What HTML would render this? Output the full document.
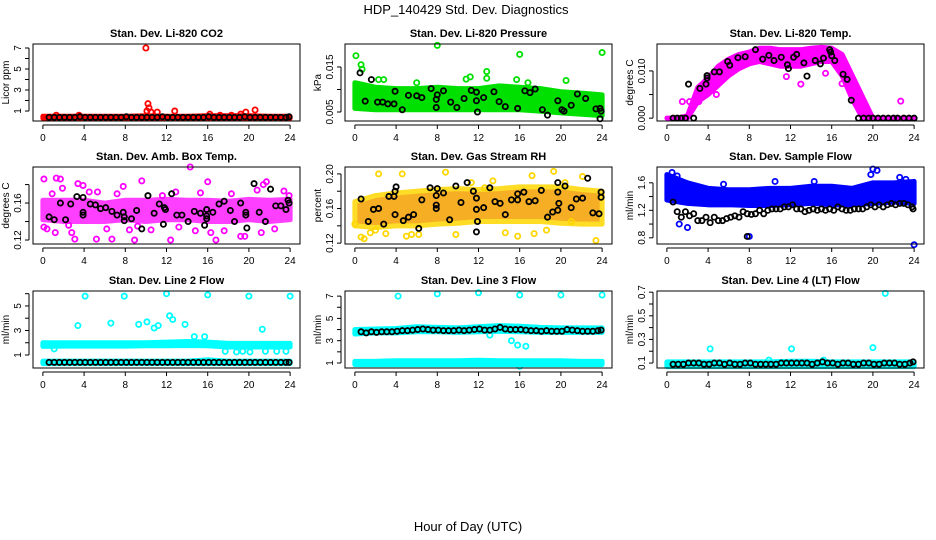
<!DOCTYPE html>
<html><head><meta charset="utf-8">
<style>
html,body{margin:0;padding:0;background:#fff;}
svg{display:block;font-family:"Liberation Sans",sans-serif;}
</style></head>
<body>
<svg id="chart" width="936" height="540" viewBox="0 0 936 540" xmlns="http://www.w3.org/2000/svg">
<text x="466" y="14" text-anchor="middle" font-size="13">HDP_140429  Std. Dev. Diagnostics</text>
<text x="468" y="531" text-anchor="middle" font-size="13">Hour of Day (UTC)</text>
</svg>
<script>
// ---- data ----
const bandHours=[0,2,4,6,8,10,12,14,16,18,20,22,24];
const tempBandHours=[0,1,2,3,4,5,6,7,8,9,10,11,12,13,14,15,16,17,18,19,20,21,22,23,24];
// P1 CO2
const co2BandLo=[0.3,0.3,0.3,0.3,0.3,0.3,0.3,0.3,0.3,0.3,0.3,0.3,0.3];
const co2BandHi=[0.5,0.5,0.5,0.5,0.5,0.55,0.5,0.5,0.55,0.55,0.55,0.5,0.5];
const co2RedX=[10,10.1,10.2,10.3,10.5,11.1,12.8,16.2,19.7,20.6,1.3,3.5,18.3,19.2,17.2];
const co2RedY=[7,1.0,1.7,1.3,0.9,0.9,1.0,0.7,0.9,1.1,0.6,0.6,0.6,0.7,0.6];
const co2BlkX=[0.6,1.1,1.6,2.1,2.6,3.1,3.6,4.1,4.6,5.1,5.6,6.1,6.6,7.1,7.6,8.1,8.6,9.1,9.6,10.1,10.6,11.1,11.6,12.1,12.6,13.1,13.6,14.1,14.6,15.1,15.6,16.1,16.6,17.1,17.6,18.1,18.6,19.1,19.6,20.1,20.6,21.1,21.6,22.1,22.6,23.1,23.6,23.9];
const co2BlkY=[0.4,0.4,0.4,0.4,0.4,0.4,0.45,0.4,0.4,0.4,0.4,0.4,0.4,0.4,0.4,0.45,0.4,0.4,0.4,0.4,0.4,0.4,0.45,0.4,0.4,0.4,0.4,0.4,0.4,0.4,0.4,0.45,0.4,0.4,0.4,0.4,0.4,0.4,0.45,0.4,0.4,0.4,0.4,0.4,0.4,0.4,0.4,0.45];
// P2 pressure
const presBandLo=[0.0058,0.0055,0.0055,0.0055,0.0055,0.0055,0.0055,0.0055,0.0055,0.0052,0.0048,0.0045,0.0042];
const presBandHi=[0.0115,0.0105,0.0102,0.0102,0.0105,0.0102,0.0102,0.0108,0.0105,0.0102,0.0095,0.0092,0.0088];
const presGrnX=[0.1,0.6,0.7,8,16,24,12.8,12.8,11.2,10.8,2.8,20.5,6,16.8,15.7,2.3];
const presGrnY=[0.0175,0.0155,0.0145,0.0198,0.0178,0.0182,0.014,0.0125,0.0128,0.0123,0.0122,0.012,0.0115,0.0115,0.0122,0.0122];
const presBlkX=[0.5,1.6,1,2.2,2.7,3.2,3.8,3.9,4.6,5.2,6,6.5,7.4,7.9,8,7.9,8.6,9.3,9.9,10.6,11.3,11.8,11.8,11.9,12.5,13.5,14,14.6,15.8,16.5,17,17.5,18.2,18.7,19.7,20.1,20.3,21,21.6,22.4,23.4,23.8,23.9,23.8];
const presBlkY=[0.0137,0.0122,0.0074,0.0072,0.0072,0.0068,0.0068,0.0096,0.0055,0.0087,0.0086,0.0082,0.0102,0.0078,0.0088,0.006,0.0097,0.0072,0.006,0.008,0.0098,0.0094,0.0075,0.005,0.0082,0.0095,0.0073,0.0062,0.0058,0.0097,0.0093,0.0101,0.0055,0.0043,0.0075,0.0055,0.0052,0.0065,0.009,0.008,0.0057,0.0058,0.0052,0.0035];
// P3 temp
const tempBandLo=[0,0,0,0.0035,0.005,0.007,0.009,0.0105,0.0115,0.012,0.0115,0.011,0.011,0.011,0.0115,0.012,0.012,0.009,0.004,0,0,0,0,0,0];
const tempBandHi=[0,0,0.0005,0.0065,0.0085,0.011,0.0125,0.0135,0.014,0.0148,0.0148,0.0145,0.0145,0.0145,0.0148,0.015,0.0148,0.0135,0.009,0.0045,0,0,0,0,0];
const tempMagX=[22.7,19,13,11.6,15.4,17,4.8,1.5,2.2,3.1,18.6];
const tempMagY=[0.0036,0.0025,0.0072,0.0088,0.0095,0.0073,0.005,0.0035,0.0035,0.0035,0.005];
const tempBlkX=[0.6,1,1.4,1.8,2.6,2.1,3.2,3.8,3.9,3.9,4.6,5.1,5.9,6.9,6.1,7.6,8.6,9.3,9.9,10.4,11.1,11.7,11.8,12.3,12.6,13.3,13.6,14.4,14.9,15.2,15.8,15.9,16,16.3,17.1,17.5,17.9,18.6,19.1,19.6,20,20.5,21,21.5,22,22.4,23,23.5,24];
const tempBlkY=[0,0,0,0,0,0.0072,0.0063,0.0072,0.0085,0.009,0.0098,0.0098,0.012,0.0128,0.0112,0.013,0.0145,0.0125,0.0133,0.0122,0.0129,0.0113,0.0105,0.0129,0.0135,0.0117,0.0089,0.0122,0.0115,0.0127,0.0145,0.014,0.0132,0.0122,0.0093,0.0082,0.0038,0,0,0,0,0,0,0,0,0,0,0,0];
// P4 amb box temp
const ambBandLo=[0.142,0.14,0.14,0.14,0.142,0.14,0.142,0.142,0.14,0.14,0.142,0.14,0.142];
const ambBandHi=[0.163,0.163,0.163,0.16,0.163,0.163,0.164,0.163,0.163,0.162,0.164,0.163,0.164];
const ambMagX=[0.1,1.3,1.7,0.1,0.4,1.2,2.8,3.1,3.4,3.9,5.2,5.3,6.7,7.8,8.9,9.6,12.4,14.3,15.3,16,16.8,19.2,19.6,21.4,21.7,0.9,7.2,11.6,18.3,23.4,23.9,8.4,16.3,21.2,2.5,13.2,4.5,10.5,14.8,17.6,22.5,6.2,9.2,12.9,20.8,1.9];
const ambMagY=[0.186,0.187,0.186,0.134,0.132,0.128,0.128,0.121,0.181,0.179,0.121,0.172,0.121,0.178,0.12,0.184,0.12,0.199,0.171,0.183,0.12,0.124,0.124,0.18,0.183,0.17,0.17,0.168,0.17,0.173,0.168,0.131,0.128,0.128,0.136,0.134,0.172,0.131,0.13,0.13,0.132,0.132,0.135,0.172,0.174,0.176];
const ambBlkX=[0.6,1.1,1.7,2.2,2.7,3.3,3.9,3.9,3.9,4.6,5.1,5.6,6.1,6.7,7.2,7.8,7.9,7.9,8.6,9.1,9.6,10.2,10.8,11.3,11.8,11.9,11.7,12.5,13,13.5,14.1,14.7,15.3,15.9,15.9,15.9,15.7,16.5,17.1,17.6,18.2,18.6,19.2,19.7,19.7,19.8,20.5,21,21.6,22.1,22.6,23.1,23.6,23.8,23.9];
const ambBlkY=[0.145,0.142,0.16,0.142,0.159,0.167,0.166,0.15,0.147,0.159,0.158,0.154,0.155,0.151,0.147,0.15,0.145,0.141,0.143,0.152,0.132,0.168,0.149,0.159,0.155,0.153,0.137,0.17,0.147,0.147,0.14,0.151,0.149,0.153,0.146,0.143,0.136,0.15,0.159,0.162,0.152,0.14,0.16,0.15,0.147,0.133,0.181,0.15,0.14,0.175,0.157,0.157,0.153,0.163,0.16];
// P5 RH
const rhBandLo=[0.14,0.138,0.14,0.14,0.142,0.143,0.145,0.145,0.145,0.145,0.143,0.142,0.142];
const rhBandHi=[0.168,0.175,0.178,0.18,0.182,0.183,0.182,0.183,0.185,0.185,0.185,0.182,0.18];
const rhYelX=[2.3,4.6,8.8,19.3,22.1,17.2,0.6,0.9,5,6.2,14.6,15.8,17.4,18.6,23.4,21,9.8,0,3,12.6,11.3,20.4,1.5,2,5.5,13.4];
const rhYelY=[0.2,0.2,0.202,0.203,0.197,0.198,0.127,0.125,0.128,0.13,0.132,0.128,0.131,0.135,0.123,0.145,0.13,0.142,0.131,0.184,0.19,0.19,0.132,0.135,0.13,0.192];
const rhBlkX=[0.6,1.3,1.8,2.3,2.8,3.3,3.8,3.9,4,3.9,4.7,5.2,5.7,6.2,6.5,7.3,8,7.9,7.9,7.9,8.6,9.2,9.8,10.3,10.9,11.5,11.8,11.8,11.9,11.8,12.5,13.1,13.6,14.1,14.6,15.2,15.8,15.8,16.4,16.9,17.5,18.1,18.7,19.2,19.7,19.8,19.7,19.7,20.4,21,21.5,22.1,22.6,23.1,23.7,23.9,23.9];
const rhBlkY=[0.171,0.145,0.159,0.16,0.142,0.174,0.174,0.18,0.185,0.153,0.146,0.15,0.153,0.137,0.17,0.184,0.183,0.175,0.164,0.16,0.178,0.147,0.186,0.167,0.19,0.18,0.172,0.159,0.145,0.133,0.161,0.184,0.168,0.166,0.153,0.17,0.177,0.17,0.179,0.168,0.169,0.181,0.15,0.156,0.158,0.166,0.179,0.19,0.186,0.161,0.171,0.172,0.195,0.155,0.154,0.173,0.179];
// P6 sample flow
const sfBandLo=[1.35,1.3,1.28,1.28,1.27,1.27,1.28,1.3,1.28,1.28,1.3,1.32,1.3];
const sfBandHi=[1.72,1.6,1.52,1.5,1.5,1.52,1.52,1.55,1.55,1.52,1.6,1.6,1.62];
const sfBluX=[24,20,20.4,0.5,2,1.2,8,0.3,1,19.8,22.6,23.2,14.3,10.5,5.5];
const sfBluY=[0.7,1.8,1.78,1.75,0.95,1.0,0.82,1.6,1.7,1.72,1.68,1.65,1.62,1.62,1.58];
const sfBlkX=[0.6,1,1.4,1.8,2.2,2.6,3,3.4,3.8,4.2,4.6,5,5.4,5.8,6.2,6.6,7,7.4,7.8,8.2,8.6,9,9.4,9.8,10.2,10.6,11,11.4,11.8,12.2,12.6,13,13.4,13.8,14.2,14.6,15,15.4,15.8,16.2,16.6,17,17.4,17.8,18.2,18.6,19,19.4,19.8,20.2,20.6,21,21.4,21.8,22.2,22.6,23,23.4,23.8,23.9,7.8];
const sfBlkY=[1.32,1.18,1.1,1.18,1.12,1.15,1.05,1.05,1.1,1.02,1.1,1.05,1.05,1.08,1.1,1.12,1.1,1.18,1.15,1.14,1.15,1.2,1.15,1.2,1.22,1.22,1.22,1.25,1.25,1.28,1.22,1.22,1.18,1.2,1.22,1.2,1.22,1.2,1.22,1.2,1.25,1.22,1.2,1.2,1.22,1.22,1.22,1.25,1.28,1.25,1.28,1.25,1.28,1.3,1.28,1.3,1.3,1.28,1.25,1.22,0.82];
// P7 line 2 flow
const l2BandLo=[1.7,1.72,1.72,1.72,1.72,1.75,1.75,1.78,1.75,1.65,1.65,1.65,1.65];
const l2BandHi=[2.0,2.0,2.0,2.0,2.0,2.0,2.05,2.1,2.05,1.95,1.95,1.95,1.95];
const l2LowLo=[0.3,0.3,0.3,0.3,0.3,0.3,0.3,0.3,0.3,0.3,0.3,0.3,0.3];
const l2LowHi=[0.5,0.5,0.5,0.5,0.5,0.5,0.5,0.5,0.6,0.5,0.5,0.5,0.5];
const l2CyaX=[4.1,3.4,6.6,7.9,9.3,10.1,10.8,11.2,12,12.3,12.6,13.8,16,14.7,15.7,20,21.3,24,17.7,18.8,19.4,20.1,21.6,22.7,23.6,1.1];
const l2CyaY=[5.8,3.4,3.6,5.8,3.5,3.7,3.2,3.4,6,4.2,3.9,3.5,5.9,2.5,2.5,5.8,3.1,5.8,1.3,1.25,1.3,1.25,1.3,1.3,1.3,1.5];
const l2BlkX=[0.6,1.1,1.6,2.1,2.6,3.1,3.6,4.1,4.6,5.1,5.6,6.1,6.6,7.1,7.6,8.1,8.6,9.1,9.6,10.1,10.6,11.1,11.6,12.1,12.6,13.1,13.6,14.1,14.6,15.1,15.6,16.1,16.6,17.1,17.6,18.1,18.6,19.1,19.6,20.1,20.6,21.1,21.6,22.1,22.6,23.1,23.6,23.9];
const l2BlkY=[0.4,0.4,0.4,0.4,0.4,0.4,0.4,0.4,0.4,0.4,0.4,0.4,0.4,0.4,0.4,0.4,0.4,0.4,0.4,0.4,0.4,0.4,0.4,0.4,0.4,0.4,0.4,0.4,0.4,0.4,0.4,0.4,0.4,0.4,0.4,0.4,0.4,0.4,0.4,0.4,0.4,0.4,0.4,0.4,0.4,0.4,0.4,0.4];
// P8 line 3 flow
const l3BandLo=[3.6,3.7,3.7,3.8,3.8,3.75,3.8,3.85,3.8,3.75,3.75,3.75,3.75];
const l3BandHi=[4.0,4.05,4.1,4.25,4.2,4.15,4.25,4.35,4.3,4.2,4.15,4.15,4.15];
const l3LowLo=[0.85,0.85,0.85,0.85,0.85,0.85,0.85,0.85,0.85,0.85,0.85,0.85,0.85];
const l3LowHi=[1.15,1.15,1.2,1.2,1.2,1.2,1.25,1.2,1.2,1.2,1.2,1.15,1.15];
const l3CyaX=[4.2,8,12,16,20,24,15.2,15.8,16.6,13.1,16,0.2];
const l3CyaY=[7,7.2,7.3,7.1,7.1,7.1,3.0,2.6,2.5,3.5,0.7,3.8];
const l3BlkX=[0.6,1.1,1.6,2.1,2.6,3.1,3.6,4.1,4.6,5.1,5.6,6.1,6.6,7.1,7.6,8.1,8.6,9.1,9.6,10.1,10.6,11.1,11.6,12.1,12.6,13.1,13.6,14.1,14.6,15.1,15.6,16.1,16.6,17.1,17.6,18.1,18.6,19.1,19.6,20.1,20.6,21.1,21.6,22.1,22.6,23.1,23.6,23.9];
const l3BlkY=[3.8,3.7,3.8,3.75,3.8,3.8,3.8,3.85,3.9,3.9,3.95,4.0,4.05,4.0,3.95,3.95,3.9,3.9,3.9,3.95,3.9,3.95,4.0,4.05,3.95,3.95,4.05,4.2,4.05,4.0,4.0,4.0,3.95,3.9,3.9,3.85,3.9,3.85,3.85,3.85,4.0,3.95,3.9,3.85,3.85,3.85,3.9,3.95];
// P9 line 4 flow
const l4BandLo=[0.07,0.07,0.07,0.07,0.07,0.07,0.07,0.07,0.07,0.07,0.07,0.07,0.07];
const l4BandHi=[0.11,0.11,0.11,0.11,0.11,0.11,0.115,0.115,0.11,0.11,0.11,0.11,0.11];
const l4CyaX=[4.2,12.1,20,21.2,9.9,15.2];
const l4CyaY=[0.22,0.22,0.23,0.69,0.125,0.125];
const l4BlkX=[0.6,1.1,1.6,2.1,2.6,3.1,3.6,4.1,4.6,5.1,5.6,6.1,6.6,7.1,7.6,8.1,8.6,9.1,9.6,10.1,10.6,11.1,11.6,12.1,12.6,13.1,13.6,14.1,14.6,15.1,15.6,16.1,16.6,17.1,17.6,18.1,18.6,19.1,19.6,20.1,20.6,21.1,21.6,22.1,22.6,23.1,23.6,23.9];
const l4BlkY=[0.09,0.09,0.09,0.1,0.1,0.1,0.09,0.09,0.1,0.1,0.09,0.1,0.09,0.09,0.1,0.1,0.09,0.09,0.09,0.09,0.09,0.1,0.1,0.1,0.1,0.1,0.1,0.09,0.1,0.11,0.1,0.1,0.09,0.1,0.1,0.09,0.09,0.1,0.1,0.09,0.09,0.1,0.1,0.1,0.09,0.09,0.1,0.11];
const xTicks=[0,4,8,12,16,20,24];

// ---- drawing ----
const NS="http://www.w3.org/2000/svg";
const svg=document.getElementById('chart');
function mk(tag,attrs,parent){const e=document.createElementNS(NS,tag);for(const k in attrs)e.setAttribute(k,attrs[k]);(parent||svg).appendChild(e);return e;}
const colL=[33,345,657], rowT=[44,167,291], W=267, H=77, XMIN=-0.96, XMAX=24.96;

function panel(p){
  const L=colL[p.col], T=rowT[p.row];
  const g=mk('g',{});
  
  
  const sx=v=>L+(v-XMIN)/(XMAX-XMIN)*W;
  const sy=v=>T+H-(v-p.ylim[0])/(p.ylim[1]-p.ylim[0])*H;
  const t=mk('text',{x:L+W/2,y:T-7,'text-anchor':'middle','font-size':'11','font-weight':'bold'},g);
  t.textContent=p.title;
  
  
  (p.bands||[]).forEach(b=>{
    const hrs=b.h||bandHours;
    let pts=hrs.map((h,i)=>sx(h)+','+sy(b.hi[i]));
    pts=pts.concat(hrs.map((h,i)=>sx(h)+','+sy(b.lo[i])).reverse());
    const pg=mk('polygon',{points:pts.join(' '),fill:b.fill||b.color,stroke:b.color,'stroke-width':'5','stroke-linejoin':'round',opacity:b.op||1},g);
    
    
  });
  (p.series||[]).forEach(s=>{
    s.x.forEach((xv,i)=>{
      const c=mk('circle',{cx:sx(xv),cy:sy(s.y[i]),r:'2.6',fill:'none',stroke:s.color,'stroke-width':'1.8'},g);
      
      
    });
  });
  const r=mk('rect',{x:L,y:T,width:W,height:H,fill:'none',stroke:'#000','stroke-width':'1'},g);
  
  
  const xa=mk('g',{},g);
  
  
  mk('line',{x1:sx(0),x2:sx(24),y1:T+H+4,y2:T+H+4,stroke:'#000'},xa);
  xTicks.forEach(v=>{
    mk('line',{x1:sx(v),x2:sx(v),y1:T+H+4,y2:T+H+8,stroke:'#000'},xa);
    const tl=mk('text',{x:sx(v),y:T+H+20,'text-anchor':'middle','font-size':'10'},xa);
    tl.textContent=v;
  });
  const ya=mk('g',{},g);
  
  
  const yt=p.yticks;
  mk('line',{x1:L-4,x2:L-4,y1:sy(yt[0]),y2:sy(yt[yt.length-1]),stroke:'#000'},ya);
  yt.forEach((v,i)=>{
    mk('line',{x1:L-8,x2:L-4,y1:sy(v),y2:sy(v),stroke:'#000'},ya);
    if(p.ylabels[i]!==''){
      const tl=mk('text',{x:L-12,y:sy(v),'text-anchor':'middle','font-size':'10',transform:`rotate(-90 ${L-12} ${sy(v)})`},ya);
      tl.textContent=p.ylabels[i];
    }
  });
  const yl=mk('text',{x:L-24,y:T+H/2,'text-anchor':'middle','font-size':'10',transform:`rotate(-90 ${L-24} ${T+H/2})`},g);
  yl.textContent=p.ytitle;
  
  
}

const BLK='#000', RED='#ff0000', GRN='#00e000', MAG='#ff00ff', BLU='#0000ff', CYA='#00ffff', YEL='#ffd700';
panel({name:'panel-co2',col:0,row:0,title:'Stan. Dev. Li-820 CO2',ytitle:'Licor ppm',ylim:[0.05,7.38],
  yticks:[1,2,3,4,5,6,7],ylabels:['1','','3','','5','','7'],
  bands:[{lo:co2BandLo,hi:co2BandHi,color:RED}],
  series:[{x:co2RedX,y:co2RedY,color:RED},{x:co2BlkX,y:co2BlkY,color:BLK}]});
panel({name:'panel-pressure',col:1,row:0,title:'Stan. Dev. Li-820 Pressure',ytitle:'kPa',ylim:[0.003,0.0201],
  yticks:[0.005,0.010,0.015],ylabels:['0.005','','0.015'],
  bands:[{lo:presBandLo,hi:presBandHi,color:GRN}],
  series:[{x:presGrnX,y:presGrnY,color:GRN},{x:presBlkX,y:presBlkY,color:BLK}]});
panel({name:'panel-temp',col:2,row:0,title:'Stan. Dev. Li-820 Temp.',ytitle:'degrees C',ylim:[-0.0006,0.0157],
  yticks:[0,0.005,0.010],ylabels:['0.000','','0.010'],
  bands:[{h:tempBandHours,lo:tempBandLo,hi:tempBandHi,color:MAG}],
  series:[{x:tempMagX,y:tempMagY,color:MAG},{x:tempBlkX,y:tempBlkY,color:BLK}]});
panel({name:'panel-amb-box-temp',col:0,row:1,title:'Stan. Dev. Amb. Box Temp.',ytitle:'degrees C',ylim:[0.1157,0.199],
  yticks:[0.12,0.14,0.16,0.18],ylabels:['0.12','','0.16',''],
  bands:[{lo:ambBandLo,hi:ambBandHi,color:MAG,op:0.75}],
  series:[{x:ambMagX,y:ambMagY,color:MAG},{x:ambBlkX,y:ambBlkY,color:BLK}]});
panel({name:'panel-gas-rh',col:1,row:1,title:'Stan. Dev. Gas Stream RH',ytitle:'percent',ylim:[0.119,0.208],
  yticks:[0.12,0.14,0.16,0.18,0.20],ylabels:['0.12','','0.16','','0.20'],
  bands:[{lo:rhBandLo,hi:rhBandHi,color:YEL,fill:'#f5a000',op:0.85}],
  series:[{x:rhYelX,y:rhYelY,color:YEL},{x:rhBlkX,y:rhBlkY,color:BLK}]});
panel({name:'panel-sample-flow',col:2,row:1,title:'Stan. Dev. Sample Flow',ytitle:'ml/min',ylim:[0.71,1.83],
  yticks:[0.8,1.0,1.2,1.4,1.6],ylabels:['0.8','','1.2','','1.6'],
  bands:[{lo:sfBandLo,hi:sfBandHi,color:BLU}],
  series:[{x:sfBluX,y:sfBluY,color:BLU},{x:sfBlkX,y:sfBlkY,color:BLK}]});
panel({name:'panel-line2-flow',col:0,row:2,title:'Stan. Dev. Line 2 Flow',ytitle:'ml/min',ylim:[-0.06,6.22],
  yticks:[1,2,3,4,5,6],ylabels:['1','','3','','5',''],
  bands:[{lo:l2BandLo,hi:l2BandHi,color:CYA},{lo:l2LowLo,hi:l2LowHi,color:CYA}],
  series:[{x:l2CyaX,y:l2CyaY,color:CYA},{x:l2BlkX,y:l2BlkY,color:BLK}]});
panel({name:'panel-line3-flow',col:1,row:2,title:'Stan. Dev. Line 3 Flow',ytitle:'ml/min',ylim:[0.55,7.46],
  yticks:[1,2,3,4,5,6,7],ylabels:['1','','3','','5','','7'],
  bands:[{lo:l3BandLo,hi:l3BandHi,color:CYA},{lo:l3LowLo,hi:l3LowHi,color:CYA}],
  series:[{x:l3CyaX,y:l3CyaY,color:CYA},{x:l3BlkX,y:l3BlkY,color:BLK}]});
panel({name:'panel-line4-flow',col:2,row:2,title:'Stan. Dev. Line 4 (LT) Flow',ytitle:'ml/min',ylim:[0.058,0.71],
  yticks:[0.1,0.2,0.3,0.4,0.5,0.6,0.7],ylabels:['0.1','','0.3','','0.5','','0.7'],
  bands:[{lo:l4BandLo,hi:l4BandHi,color:CYA}],
  series:[{x:l4CyaX,y:l4CyaY,color:CYA},{x:l4BlkX,y:l4BlkY,color:BLK}]});
</script>
</body></html>
